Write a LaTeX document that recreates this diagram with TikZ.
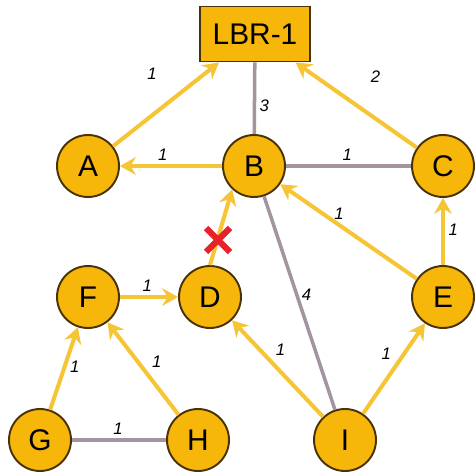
\documentclass[tikz,border=0pt]{standalone}
\usepackage{fontspec}
\setmainfont{Liberation Sans}
\usetikzlibrary{arrows.meta}
\definecolor{routeramber}{HTML}{F7B60A}
\definecolor{routeredge}{HTML}{4A3208}
\definecolor{flowgold}{HTML}{F6C535}
\definecolor{linkgray}{HTML}{A3949F}
\definecolor{failred}{HTML}{E8222B}
\begin{document}
\begin{tikzpicture}[x=0.02cm,y=-0.02cm,
  router/.style={circle,draw=routeredge,fill=routeramber,line width=1.1pt,
    minimum size=1.24cm,inner sep=0pt,font=\fontsize{17}{17}\selectfont},
  border/.style={rectangle,draw=routeredge,fill=routeramber,line width=1.1pt,
    minimum width=2.2cm,minimum height=1.1cm,font=\fontsize{17}{17}\selectfont},
  flow/.style={draw=flowgold,line width=2.3pt,
    -{Stealth[length=9pt,width=10pt,inset=3pt]}},
  link/.style={draw=linkgray,line width=2pt},
  wt/.style={font=\fontsize{9.5}{10}\selectfont\itshape,inner sep=2pt}]
  \useasboundingbox (0,0) rectangle (475,475);

  \node[border] (lbr) at (255,34) {LBR-1};
  \node[router] (A) at (88,166) {A};
  \node[router] (B) at (254,166) {B};
  \node[router] (C) at (443,166) {C};
  \node[router] (D) at (210,297) {D};
  \node[router] (E) at (443,297) {E};
  \node[router] (F) at (88,297) {F};
  \node[router] (G) at (40,440) {G};
  \node[router] (H) at (198,440) {H};
  \node[router] (I) at (345,440) {I};

  \draw[link] (B) -- node[wt,pos=0.4,right] {3} (lbr);
  \draw[link] (B) -- node[wt,pos=0.49,above] {1} (C);
  \draw[link] (B) -- node[wt,pos=0.46,right] {4} (I);
  \draw[link] (G) -- node[wt,pos=0.49,above] {1} (H);

  \draw[flow] (A) -- node[wt,pos=0.58,above left=7pt] {1} (lbr);
  \draw[flow] (C) -- node[wt,pos=0.54,above right=8pt] {2} (lbr);
  \draw[flow] (B) -- node[wt,pos=0.58,above] {1} (A);
  \draw[flow] (E) -- node[wt,pos=0.57,above] {1} (B);
  \draw[flow] (E) -- node[wt,pos=0.52,right] {1} (C);
  \draw[flow] (D.north) -- (B.227);
  \draw[flow] (F) -- node[wt,pos=0.47,above] {1} (D);
  \draw[flow] (I) -- node[wt,pos=0.58,above right] {1} (D);
  \draw[flow] (I) -- node[wt,pos=0.54,above left] {1} (E);
  \draw[flow] (G) -- node[wt,pos=0.52,right] {1} (F);
  \draw[flow] (H) -- node[wt,pos=0.45,above right] {1} (F);

  \draw[failred,line width=3.6pt] (206,228) -- (230,252) (206,252) -- (230,228);
\end{tikzpicture}
\end{document}
